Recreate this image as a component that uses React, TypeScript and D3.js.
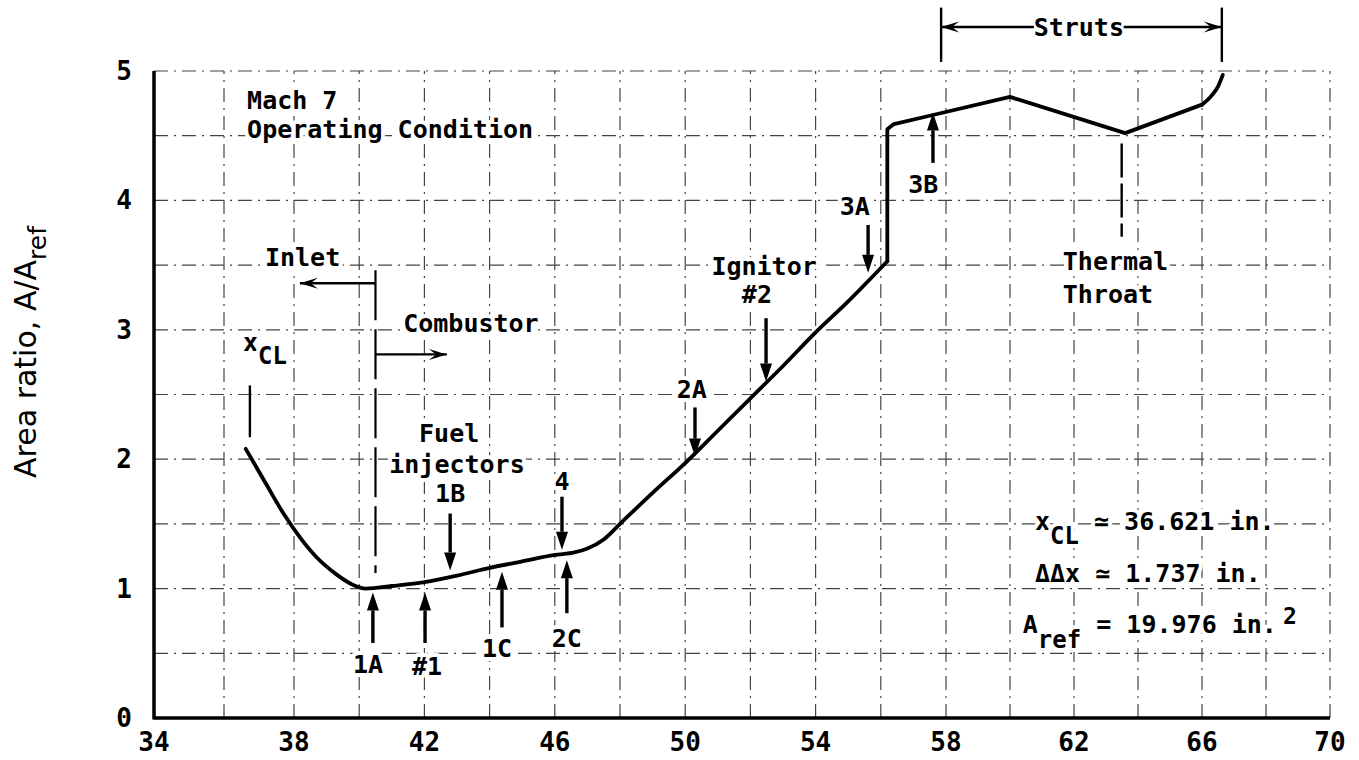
import * as d3 from "d3";

const W = 1359;
const H = 760;
const MONO = "'DejaVu Sans Mono', monospace";

// area ratio along the duct
const profileX = [36.62, 37.2, 37.7, 38.2, 38.7, 39.3, 39.8, 40.2, 41.0, 42.0, 43.0, 44.0, 45.0, 46.0, 46.6, 47.0, 47.5, 48.0, 49.0, 50.0, 51.0, 52.0, 53.0, 54.0, 55.0, 56.2];
const profileY = [2.08, 1.81, 1.58, 1.39, 1.24, 1.11, 1.03, 1.0, 1.02, 1.05, 1.1, 1.16, 1.21, 1.26, 1.28, 1.31, 1.38, 1.5, 1.74, 1.97, 2.22, 2.47, 2.72, 2.98, 3.22, 3.53];
// step + strut section
const strutX = [56.2, 56.2, 56.4, 57.6, 60.0, 63.6, 66.0];
const strutY = [3.53, 4.55, 4.59, 4.66, 4.8, 4.52, 4.74];
// flare at the exit
const exitX = [66.0, 66.3, 66.5, 66.65];
const exitY = [4.74, 4.81, 4.88, 4.97];

const xTicks = [34, 38, 42, 46, 50, 54, 58, 62, 66, 70];
const yTicks = [0, 1, 2, 3, 4, 5];

// station arrows: x, tail y, tip y
const arrowNames = ["1A", "#1", "1C", "2C", "1B", "4", "2A", "ign2", "3A", "3B"];
const arrowX = [40.42, 42.02, 44.38, 46.37, 42.79, 46.22, 50.3, 52.48, 55.61, 57.6];
const arrowTail = [0.58, 0.58, 0.7, 0.81, 1.58, 1.71, 2.4, 3.09, 3.81, 4.29];
const arrowTip = [0.97, 0.97, 1.13, 1.22, 1.14, 1.3, 2.02, 2.6, 3.44, 4.68];

// centred station labels: text, x, baseline y
const labelText = ["1A", "#1", "1C", "2C", "1B", "Fuel", "injectors", "4", "2A", "Ignitor", "#2", "3A", "3B"];
const labelX = [40.27, 42.08, 44.23, 46.37, 42.79, 42.76, 43.0, 46.22, 50.2, 52.42, 52.2, 55.2, 57.3];
const labelY = [0.35, 0.33, 0.47, 0.55, 1.67, 2.13, 1.89, 1.76, 2.47, 3.42, 3.21, 3.89, 4.06];

// polylinear x to follow the scanned paper
const x = d3.scaleLinear().domain([34, 38, 58, 70]).range([154, 294, 946, 1330]);
const y = d3.scaleLinear().domain([0, 5]).range([718, 71]);

const Arrow = ({ xv, from, to }: { xv: number; from: number; to: number }) => {
  const px = x(xv);
  const y0 = y(from);
  const y1 = y(to);
  const dir = y1 > y0 ? 1 : -1;
  const hl = 18;
  const hw = 6;
  return (
    <g>
      <line x1={px} x2={px} y1={y0} y2={y1 - dir * hl} stroke="#000" strokeWidth={3.4} />
      <path d={`M${px},${y1} L${px - hw},${y1 - dir * hl} L${px + hw},${y1 - dir * hl} Z`} fill="#000" />
    </g>
  );
};

const HArrow = ({ x0, x1, yv }: { x0: number; x1: number; yv: number }) => {
  const a = x(x0);
  const b = x(x1);
  const py = y(yv);
  const dir = b > a ? 1 : -1;
  const hl = 18;
  const hw = 5.5;
  return (
    <g>
      <line x1={a} x2={b} y1={py} y2={py} stroke="#000" strokeWidth={2.4} />
      <path d={`M${b},${py} L${b - dir * hl},${py - hw} L${b - dir * hl * 0.6},${py} L${b - dir * hl},${py + hw} Z`} fill="#000" />
    </g>
  );
};

export default function App() {
  const smooth = (xs: number[], ys: number[]) =>
    d3
      .line<number>()
      .x((_, i) => x(xs[i]))
      .y((_, i) => y(ys[i]))
      .curve(d3.curveMonotoneX)(xs.map((_, i) => i)) || "";
  const straight = (xs: number[], ys: number[]) =>
    d3
      .line<number>()
      .x((_, i) => x(xs[i]))
      .y((_, i) => y(ys[i]))(xs.map((_, i) => i)) || "";

  const gridX = d3.range(36, 70.1, 2);
  const gridY = d3.range(0.5, 5.01, 0.5);
  const grid = { stroke: "#444", strokeWidth: 1.2, strokeDasharray: "14 6 2 6" };
  const knock = { stroke: "#fff", strokeWidth: 8, paintOrder: "stroke" as const, strokeLinejoin: "round" as const };

  return (
    <svg width={W} height={H} style={{ position: "absolute", left: 0, top: 0, background: "#fff" }} fontFamily={MONO} fontSize={25} fontWeight="bold">
      {/* graph-paper grid */}
      {gridX.map((v) => (
        <line key={`gx${v}`} x1={x(v)} x2={x(v)} y1={y(0)} y2={y(5)} {...grid} />
      ))}
      {gridY.map((v) => (
        <line key={`gy${v}`} x1={x(34)} x2={x(70)} y1={y(v)} y2={y(v)} {...grid} />
      ))}

      {/* axes */}
      <line x1={x(34)} x2={x(34)} y1={y(0) + 1.5} y2={y(5)} stroke="#000" strokeWidth={3.5} />
      <line x1={x(34)} x2={x(70)} y1={y(0)} y2={y(0)} stroke="#000" strokeWidth={3.5} />

      {xTicks.map((v) => (
        <text key={`xt${v}`} x={x(v)} y={y(0) + 33} textAnchor="middle" fontSize={26}>
          {v}
        </text>
      ))}
      {yTicks.map((v) => (
        <text key={`yt${v}`} x={132} y={y(v) + 9} textAnchor="end" fontSize={26}>
          {v}
        </text>
      ))}

      <text transform={`translate(36,352) rotate(-90)`} textAnchor="middle" fontFamily="'DejaVu Sans', sans-serif" fontWeight="normal" fontSize={30}>
        Area ratio, A/A<tspan dy={10} fontSize={25}>ref</tspan>
      </text>

      {/* text labels on the grid */}
      <g {...knock}>
        <text x={x(36.66)} y={y(4.71)}>Mach 7</text>
        <text x={x(36.66)} y={y(4.48)}>Operating Condition</text>
        <text x={x(37.17)} y={y(3.49)}>Inlet</text>
        <text x={x(41.35)} y={y(2.98)}>Combustor</text>
        <text x={x(36.54)} y={y(2.84)}>
          x<tspan dy={13} fontSize={24}>CL</tspan>
        </text>
        <text x={x(61.65)} y={y(3.46)}>Thermal</text>
        <text x={x(61.65)} y={y(3.21)}>Throat</text>
        {labelText.map((t, i) => (
          <text key={`lb${i}`} x={x(labelX[i])} y={y(labelY[i])} textAnchor="middle">
            {t}
          </text>
        ))}
        <text x={x(60.78)} y={y(1.45)}>
          x<tspan dy={14} fontSize={24}>CL</tspan>
          <tspan dy={-14}> ≃ 36.621 in.</tspan>
        </text>
        <text x={x(60.78)} y={y(1.05)}>ΔΔx ≃ 1.737 in.</text>
        <text x={x(60.4)} y={y(0.66)}>
          A<tspan dy={15} fontSize={24}>ref</tspan>
          <tspan dy={-15}> = 19.976 in.</tspan>
          <tspan dy={-9} dx={6} fontSize={23}>2</tspan>
        </text>
      </g>

      {/* inlet / combustor boundary */}
      <line x1={x(40.5)} x2={x(40.5)} y1={y(3.46)} y2={y(1.12)} stroke="#000" strokeWidth={2.2} strokeDasharray="50 9" />
      <HArrow x0={40.5} x1={38.18} yv={3.36} />
      <HArrow x0={40.5} x1={42.69} yv={2.81} />

      {/* x_CL marker */}
      <line x1={x(36.74)} x2={x(36.74)} y1={y(2.57)} y2={y(2.17)} stroke="#000" strokeWidth={2.4} />

      {/* thermal throat marker */}
      <line x1={x(63.49)} x2={x(63.49)} y1={y(4.44)} y2={y(3.72)} stroke="#000" strokeWidth={2.4} strokeDasharray="34 6" />

      {/* struts bracket */}
      <line x1={x(57.85)} x2={x(57.85)} y1={y(5.49)} y2={y(5.07)} stroke="#000" strokeWidth={2.4} />
      <line x1={x(66.62)} x2={x(66.62)} y1={y(5.49)} y2={y(5.07)} stroke="#000" strokeWidth={2.4} />
      <HArrow x0={60.75} x1={57.85} yv={5.34} />
      <HArrow x0={63.55} x1={66.62} yv={5.34} />
      <text x={x(62.15)} y={y(5.27)} textAnchor="middle">Struts</text>

      {/* profile */}
      <g fill="none" stroke="#000" strokeWidth={3.8} strokeLinejoin="round" strokeLinecap="round">
        <path d={smooth(profileX, profileY)} />
        <path d={straight(strutX, strutY)} />
        <path d={smooth(exitX, exitY)} />
      </g>

      {arrowNames.map((n, i) => (
        <Arrow key={n} xv={arrowX[i]} from={arrowTail[i]} to={arrowTip[i]} />
      ))}
    </svg>
  );
}
